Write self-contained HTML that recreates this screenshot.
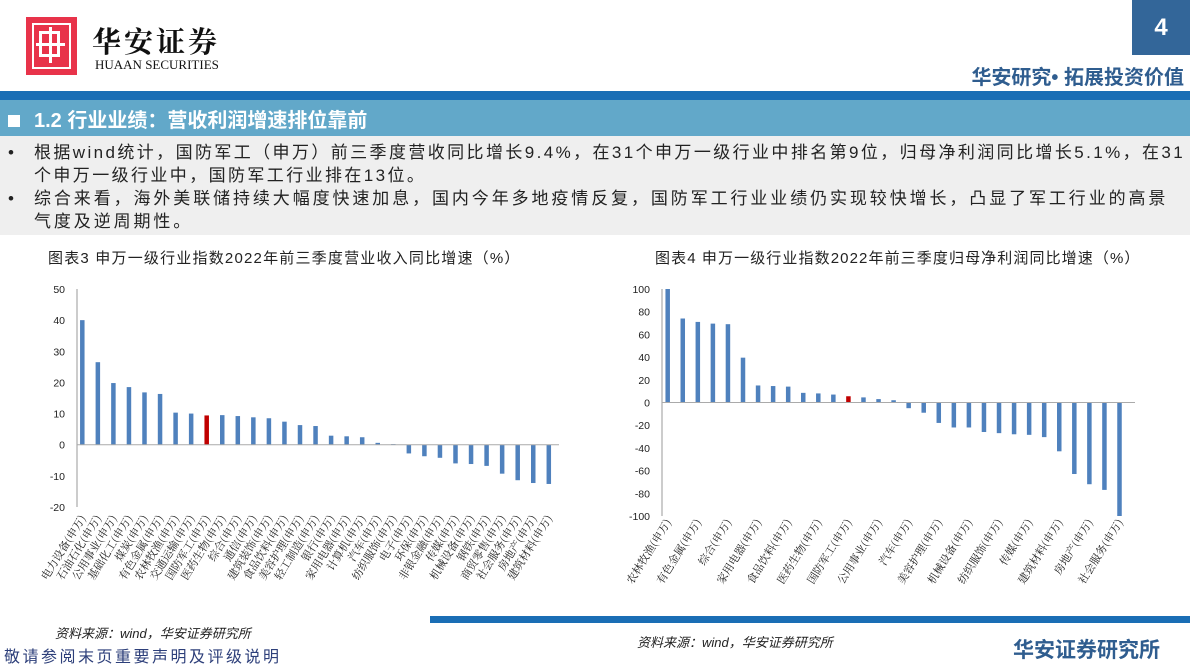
<!DOCTYPE html>
<html><head><meta charset="utf-8">
<style>
body{margin:0;width:1190px;height:669px;position:relative;overflow:hidden;background:#fff;font-family:"Liberation Sans","Noto Sans CJK SC",sans-serif;}
.a{position:absolute;}
.bl{font-family:"Liberation Sans","Noto Sans CJK SC",sans-serif;font-size:17px;letter-spacing:2.4px;color:#222;line-height:23px;white-space:nowrap;}
</style></head><body>
<div class="a" style="left:26px;top:17px;width:51px;height:58px;background:#e8334a;">
 <div class="a" style="left:6px;top:6px;width:35px;height:42px;border:2px solid #fff;"></div>
 <div class="a" style="left:13px;top:14px;width:21px;height:26px;border:3px solid #fff;box-sizing:border-box;"></div>
 <div class="a" style="left:23px;top:10px;width:3px;height:36px;background:#fff;"></div>
 <div class="a" style="left:10px;top:26px;width:29px;height:3px;background:#fff;"></div>
</div>
<div class="a" style="left:92px;top:20px;font-family:'Noto Serif CJK SC',serif;font-size:29px;font-weight:bold;letter-spacing:3px;color:#111;">华安证券</div>
<div class="a" style="left:95px;top:57px;font-family:'Liberation Serif',serif;font-size:13px;color:#111;">HUAAN SECURITIES</div>
<div class="a" style="left:1132px;top:0;width:58px;height:55px;background:#336699;color:#fff;font-weight:bold;font-size:24px;text-align:center;line-height:56px;">4</div>
<div class="a" style="right:6px;top:61px;font-size:20px;font-weight:bold;color:#2f5d8f;">华安研究• 拓展投资价值</div>
<div class="a" style="left:0;top:91px;width:1190px;height:9px;background:#1a6eb5;"></div>
<div class="a" style="left:0;top:100px;width:1190px;height:36px;background:#62a8c9;"></div>
<div class="a" style="left:8px;top:104px;color:#fff;font-size:20px;font-weight:bold;white-space:nowrap;"><span style="display:inline-block;width:12px;height:12px;background:#fff;margin-right:14px;"></span>1.2 行业业绩：营收利润增速排位靠前</div>
<div class="a" style="left:0;top:136px;width:1190px;height:99px;background:#efefef;"></div>
<div class="a" style="left:8px;top:141px;font-size:17px;line-height:23px;color:#222;">•</div>
<div class="a" style="left:8px;top:187px;font-size:17px;line-height:23px;color:#222;">•</div>
<div class="a bl" style="left:34px;top:141px;">根据wind统计，国防军工（申万）前三季度营收同比增长9.4%，在31个申万一级行业中排名第9位，归母净利润同比增长5.1%，在31<br>个申万一级行业中，国防军工行业排在13位。</div>
<div class="a bl" style="left:34px;top:187px;letter-spacing:2.9px;">综合来看，海外美联储持续大幅度快速加息，国内今年多地疫情反复，国防军工行业业绩仍实现较快增长，凸显了军工行业的高景<br>气度及逆周期性。</div>
<div class="a" style="left:48px;top:247px;font-size:15px;letter-spacing:1.2px;color:#222;white-space:nowrap;">图表3 申万一级行业指数2022年前三季度营业收入同比增速（%）</div>
<div class="a" style="left:655px;top:247px;font-size:15px;letter-spacing:1.1px;color:#222;white-space:nowrap;">图表4 申万一级行业指数2022年前三季度归母净利润同比增速（%）</div>
<svg class="a" style="left:0;top:0" width="1190" height="669" id="svg"></svg>
<div class="a" style="left:430px;top:616px;width:760px;height:7px;background:#1a6eb5;"></div>
<div class="a" style="left:55px;top:623px;font-size:13px;font-style:italic;color:#222;">资料来源：wind，华安证券研究所</div>
<div class="a" style="left:637px;top:632px;font-size:13px;font-style:italic;color:#222;">资料来源：wind，华安证券研究所</div>
<div class="a" style="left:4px;top:643px;font-size:16px;letter-spacing:2.5px;color:#2d3f7a;">敬请参阅末页重要声明及评级说明</div>
<div class="a" style="left:1013px;top:634px;font-size:21px;font-weight:bold;color:#2f5d8f;">华安证券研究所</div>
<script>
const cats3=["电力设备","石油石化","公用事业","基础化工","煤炭","有色金属","农林牧渔","交通运输","国防军工","医药生物","综合","通信","建筑装饰","食品饮料","美容护理","轻工制造","银行","家用电器","计算机","汽车","纺织服饰","电子","环保","非银金融","传媒","机械设备","钢铁","商贸零售","社会服务","房地产","建筑材料"];
const vals3=[40,26.5,19.8,18.5,16.8,16.3,10.3,10,9.4,9.5,9.2,8.8,8.5,7.4,6.3,6,2.9,2.7,2.4,0.6,0.2,-2.8,-3.7,-4.2,-6,-6.2,-6.8,-9.3,-11.4,-12.3,-12.6];
const ticks3=[50,40,30,20,10,0,-10,-20];
const cats4=["农林牧渔","煤炭","有色金属","石油石化","综合","基础化工","家用电器","银行","食品饮料","交通运输","医药生物","电力设备","国防军工","非银金融","公用事业","通信","汽车","轻工制造","美容护理","钢铁","机械设备","商贸零售","纺织服饰","环保","传媒","电子","建筑材料","计算机","房地产","建筑装饰","社会服务"];
const vals4=[100,74,71,69.5,69,39.5,15,14.5,14,8.5,8,7,5.5,4.5,3,2,-5,-9,-18,-22,-22,-26,-27,-28,-28.5,-30.5,-43,-63,-72,-77,-100];
const ticks4=[100,80,60,40,20,0,-20,-40,-60,-80,-100];
const highlight="国防军工";
const svg=document.getElementById('svg');const NS="http://www.w3.org/2000/svg";
function mk(t,a){const e=document.createElementNS(NS,t);for(const k in a)e.setAttribute(k,a[k]);svg.appendChild(e);return e;}
function chart(c){
 const y=v=>c.y0+(c.max-v)/(c.max-c.min)*(c.y1-c.y0);
 const x=i=>c.x0+i*c.step;
 let e=mk('line',{x1:c.ax,x2:c.ax,y1:c.y0,y2:c.y1,stroke:'#999','stroke-width':1});
 
 
 c.ticks.forEach(t=>{let tx=mk('text',{x:c.ax-12,y:y(t)+4,'text-anchor':'end','font-size':10.5,fill:'#222','font-family':'Liberation Sans,sans-serif'});tx.textContent=t;
  
  });
 c.vals.forEach((v,i)=>{const a=y(Math.max(v,0)),b=y(Math.min(v,0));
  let r=mk('rect',{x:x(i)-c.bw/2,y:a,width:c.bw,height:Math.max(b-a,0.5),fill:c.cats[i]===highlight?'#c00000':'#4f81bd'});
  
  
  if(i%c.every===0){let t=mk('text',{transform:`translate(${x(i)+4},${c.ly}) rotate(-58)`,'text-anchor':'end','font-size':11,fill:'#222','font-family':'Noto Serif CJK SC,serif'});t.textContent=c.cats[i]+'(申万)';
   
   }
 });
 let z=mk('line',{x1:c.ax,x2:c.zx,y1:y(0),y2:y(0),stroke:'#aaa','stroke-width':1});
 
 
}
chart({id:'chart3',cats:cats3,vals:vals3,ticks:ticks3,max:50,min:-20,y0:289,y1:507,ax:77,x0:82.3,step:15.55,bw:4.5,zx:559,ly:518,every:1});
chart({id:'chart4',cats:cats4,vals:vals4,ticks:ticks4,max:100,min:-100,y0:289,y1:516,ax:662,x0:667.7,step:15.06,bw:4.5,zx:1135,ly:522,every:2});
</script>
</body></html>
